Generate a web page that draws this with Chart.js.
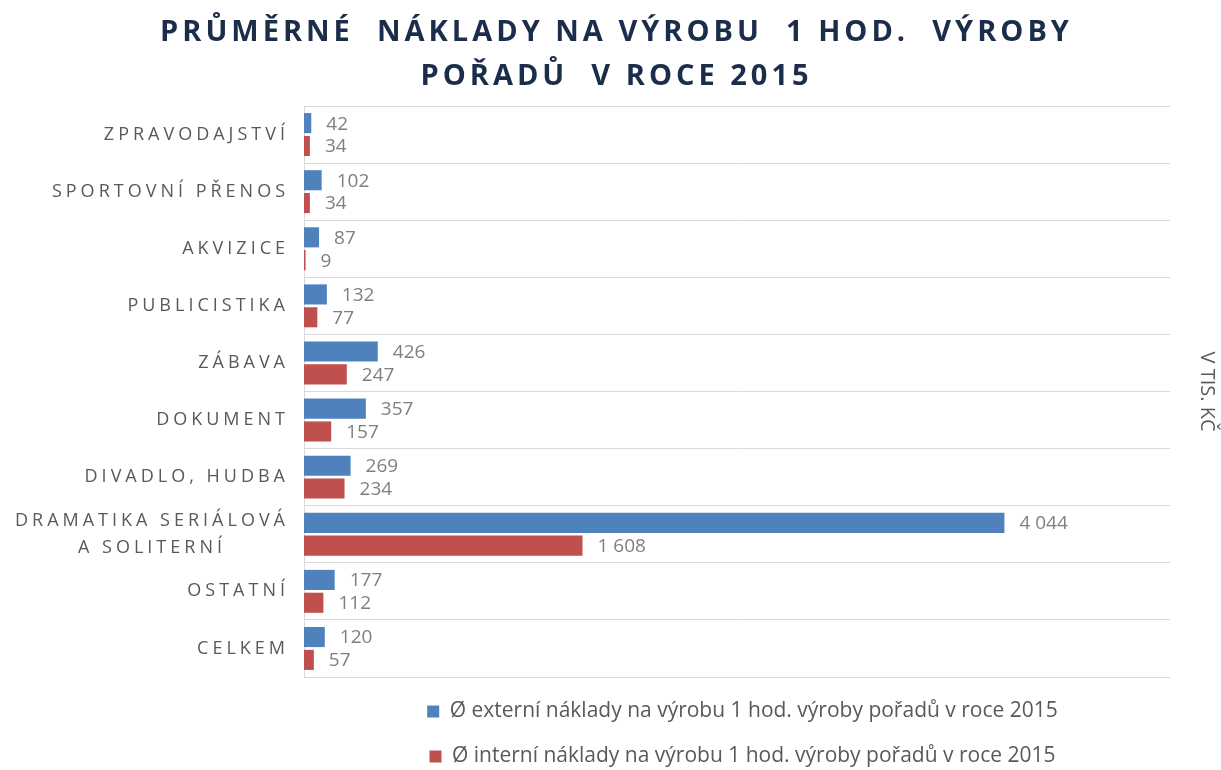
<!DOCTYPE html>
<html lang="cs">
<head>
<meta charset="utf-8">
<title>Průměrné náklady na výrobu 1 hod. výroby pořadů v roce 2015</title>
<script src="https://cdn.jsdelivr.net/npm/chart.js@4.4.1/dist/chart.umd.min.js"></script>
<style>
  html, body { margin: 0; padding: 0; background: #fff; }
  #wrap { width: 1221px; height: 770px; position: relative; }
</style>
</head>
<body>
<div id="wrap"><canvas id="chart"></canvas></div>
<script>
const categories = [
  'ZPRAVODAJSTVÍ',
  'SPORTOVNÍ PŘENOS',
  'AKVIZICE',
  'PUBLICISTIKA',
  'ZÁBAVA',
  'DOKUMENT',
  'DIVADLO, HUDBA',
  ['DRAMATIKA SERIÁLOVÁ', 'A SOLITERNÍ'],
  'OSTATNÍ',
  'CELKEM'
];
const externalCost = [42, 102, 87, 132, 426, 357, 269, 4044, 177, 120];
const internalCost = [34, 34, 9, 77, 247, 157, 234, 1608, 112, 57];
const seriesNames = [
  'Ø externí náklady na výrobu 1 hod. výroby pořadů v roce 2015',
  'Ø interní náklady na výrobu 1 hod. výroby pořadů v roce 2015'
];
const titleLines = ['PRŮMĚRNÉ  NÁKLADY NA VÝROBU  1 HOD.  VÝROBY', 'POŘADŮ  V ROCE 2015'];
const unitLabel = 'V TIS. KČ';
const valueMax = 5000;

const FONT = '"Open Sans", "DejaVu Sans", sans-serif';

function formatThousands(v) {
  return String(v).replace(/\B(?=(\d{3})+(?!\d))/g, ' ');
}

// spaced capitals for the title; legend block sits under the plot area
const layoutTweaks = {
  id: 'layoutTweaks',
  afterLayout(chart) {
    const block = chart.titleBlock;
    if (block && !block._spaced) {
      const draw = block.draw;
      block.draw = function (...args) {
        this.ctx.save();
        this.ctx.letterSpacing = '4px';
        draw.apply(this, args);
        this.ctx.restore();
      };
      block._spaced = true;
    }
    chart.legend.left = chart.chartArea.left + 11;
    chart.legend.right = chart.chartArea.right;
  }
};

// category names, letter-spaced, multi-line names centred on each other
const categoryLabels = {
  id: 'categoryLabels',
  afterDraw(chart) {
    const { ctx } = chart;
    const y = chart.scales.y;
    ctx.save();
    ctx.font = '18px ' + FONT;
    ctx.fillStyle = '#595959';
    ctx.letterSpacing = '4px';
    ctx.textAlign = 'center';
    ctx.textBaseline = 'middle';
    const right = y.right - 15;
    categories.forEach((cat, i) => {
      const lines = Array.isArray(cat) ? cat : [cat];
      const widest = Math.max(...lines.map(l => ctx.measureText(l).width));
      const cx = right - widest / 2;
      const cy = y.getPixelForValue(i);
      lines.forEach((line, j) => {
        ctx.fillText(line, cx, cy + (j - (lines.length - 1) / 2) * 27);
      });
    });
    ctx.restore();
  }
};

// value next to the end of every bar
const barValues = {
  id: 'barValues',
  afterDatasetsDraw(chart) {
    const { ctx } = chart;
    ctx.save();
    ctx.font = '19px ' + FONT;
    ctx.fillStyle = '#7f7f7f';
    ctx.textAlign = 'left';
    ctx.textBaseline = 'middle';
    chart.data.datasets.forEach((ds, di) => {
      chart.getDatasetMeta(di).data.forEach((bar, i) => {
        ctx.fillText(formatThousands(ds.data[i]), bar.x + 15, bar.y + 1);
      });
    });
    ctx.restore();
  }
};

new Chart(document.getElementById('chart'), {
  type: 'bar',
  data: {
    labels: categories,
    datasets: [
      {
        label: seriesNames[0],
        data: externalCost,
        backgroundColor: '#4f81bd',
        barPercentage: 0.88,
        categoryPercentage: 0.8
      },
      {
        label: seriesNames[1],
        data: internalCost,
        backgroundColor: '#c0504d',
        barPercentage: 0.88,
        categoryPercentage: 0.8
      }
    ]
  },
  options: {
    indexAxis: 'y',
    responsive: true,
    maintainAspectRatio: false,
    devicePixelRatio: 1,
    animation: false,
    layout: { padding: { left: 12, right: 0, top: 0, bottom: -7 } },
    scales: {
      x: {
        display: false,
        min: 0,
        max: valueMax
      },
      y: {
        type: 'category',
        grid: { offset: true, color: '#d9d9d9', lineWidth: 1, drawTicks: false },
        border: { display: true, color: '#d9d9d9', width: 1 },
        ticks: { display: false },
        afterFit(scale) { scale.width = 292; }
      },
      yUnit: {
        type: 'category',
        position: 'right',
        grid: { display: false },
        border: { display: false },
        ticks: { display: false },
        title: {
          display: true,
          text: unitLabel,
          color: '#595959',
          font: { family: FONT, size: 20 },
          padding: { top: 2, bottom: 0 }
        },
        afterFit(scale) { scale.width = 51; }
      }
    },
    plugins: {
      title: {
        display: true,
        text: titleLines,
        color: '#1b2d4a',
        font: { family: FONT, size: 29, weight: 'bold', lineHeight: 1.5 },
        padding: { top: 11, bottom: 8 }
      },
      legend: {
        position: 'bottom',
        labels: {
          color: '#595959',
          boxWidth: 12,
          boxHeight: 12,
          padding: 24,
          font: { family: FONT, size: 21 }
        }
      },
      tooltip: { enabled: false }
    }
  },
  plugins: [layoutTweaks, categoryLabels, barValues]
});
</script>
</body>
</html>
